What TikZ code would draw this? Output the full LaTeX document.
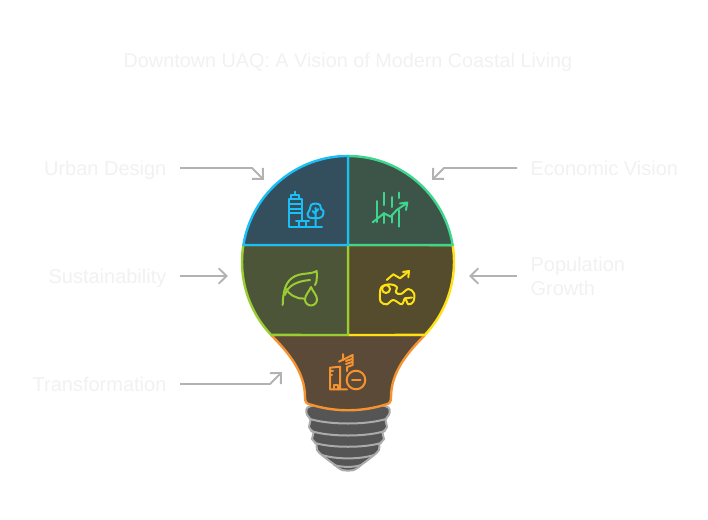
\documentclass[tikz,border=0pt]{standalone}
\usepackage{fontspec}
\setmainfont{Liberation Sans}
\usetikzlibrary{arrows.meta}

\definecolor{labelgray}{RGB}{241,241,241}
\definecolor{arrowgray}{RGB}{178,178,178}
\definecolor{threadgray}{RGB}{171,171,171}
\definecolor{screwdark}{RGB}{85,85,85}
\definecolor{urbanblue}{RGB}{27,190,245}
\definecolor{urbanfill}{RGB}{51,78,92}
\definecolor{econgreen}{RGB}{61,214,140}
\definecolor{econfill}{RGB}{61,85,73}
\definecolor{sustlime}{RGB}{154,205,50}
\definecolor{sustfill}{RGB}{77,85,57}
\definecolor{popyellow}{RGB}{255,224,20}
\definecolor{popfill}{RGB}{84,76,44}
\definecolor{transorange}{RGB}{245,147,49}
\definecolor{transfill}{RGB}{92,74,56}

\tikzset{
  labeltext/.style={text=labelgray,font=\fontsize{15}{18}\selectfont,inner sep=0pt,outer sep=10.2pt},
  labelsingle/.style={labeltext,text height=13.6pt,text depth=3pt},
  pointer/.style={draw=arrowgray,line width=1.4pt,-{Straight Barb[length=6pt,width=11.5pt,line width=1.4pt]}},
  cellline/.style={line width=1.8pt,line join=round},
  iconline/.style={line width=1.5pt,line cap=round,line join=round},
  threadline/.style={draw=threadgray,line width=1.5pt,line cap=round}
}

\begin{document}
\begin{tikzpicture}[x=0.75pt,y=0.75pt,yscale=-1]
\path [use as bounding box] (0,0) rectangle (708,519);

%Shape: Screw base
\draw [threadline,fill=screwdark] plot [smooth cycle,tension=0.55] coordinates {(348,402) (311,406) (306.5,413) (310.5,420) (309,427) (313.5,433) (312,439) (316.5,444) (317,450) (323,456) (335,465) (342,470) (354,470) (361,465) (373,456) (379,450) (379.5,444) (384,439) (382.5,433) (387,427) (385.5,420) (389.5,413) (385,406)};
%Curves: threads
\draw [threadline] (310,419) .. controls (330,425) and (366,425) .. (386,419) ;
\draw [threadline] (311,431) .. controls (330,437) and (366,437) .. (385,431) ;
\draw [threadline] (315,443) .. controls (332,448) and (364,448) .. (381,443) ;
\draw [threadline] (322,455) .. controls (336,459.5) and (360,459.5) .. (374,455) ;
\draw [threadline] (334,465) .. controls (342,467.5) and (354,467.5) .. (361,465) ;

%Shape: Neck
\draw [cellline,draw=transorange,fill=transfill] (271,335) .. controls (288,352) and (305,372) .. (305,397) .. controls (305,403) and (307,404) .. (312,405) .. controls (335,412) and (361,412) .. (384,405) .. controls (389,404) and (391,403) .. (391,397) .. controls (391,372) and (408,352) .. (425,335) -- cycle ;
%Shape: Lower right
\draw [cellline,draw=popyellow,fill=popfill] (348,245) -- (452.6,245) arc [start angle=-9.2,end angle=43.5,radius=106] -- (348,335) -- cycle ;
%Shape: Lower left
\draw [cellline,draw=sustlime,fill=sustfill] (348,245) -- (243.4,245) arc [start angle=189.2,end angle=136.5,radius=106] -- (348,335) -- cycle ;
%Shape: Upper right
\draw [cellline,draw=econgreen,fill=econfill] (348,245) -- (348,156) arc [start angle=270,end angle=350.8,radius=106] -- cycle ;
%Shape: Upper left
\draw [cellline,draw=urbanblue,fill=urbanfill] (348,245) -- (243.4,245) arc [start angle=189.2,end angle=270,radius=106] -- cycle ;

%Icon: building and tree
\draw [iconline,draw=urbanblue] (296,226.5) -- (288.5,226.5) -- (288.5,199) -- (301.5,199) -- (301.5,221) ;
\draw [iconline,draw=urbanblue] (291,199) -- (291,195) -- (299,195) -- (299,199) (295,195) -- (295,191.5) ;
\draw [iconline,draw=urbanblue] (290,204) -- (301.5,204) (290,208.5) -- (301.5,208.5) (290,213) -- (301.5,213) ;
\draw [iconline,draw=urbanblue] (296,226.5) -- (322,226.5) (296,221) -- (309,221) (298.5,221) -- (298.5,226.5) (306,221) -- (306,226.5) ;
\draw [iconline,draw=urbanblue] plot [smooth cycle,tension=0.6] coordinates {(307.5,214) (310,209) (311,205) (315.5,203.5) (320,205) (321,209) (323.5,211) (322.5,216) (319,218) (312,218) (308.5,217)};
\draw [iconline,draw=urbanblue] (315.7,208) -- (315.7,226.5) (315.7,214) -- (312.5,211) (315.7,212) -- (318.5,209) ;

%Icon: chart
\draw [iconline,draw=econgreen] (376.7,201) -- (376.7,222) (384,192.7) -- (384,205) (391.7,197) -- (391.7,207) (399.3,192.7) -- (399.3,198) (384,213) -- (384,223) (391.7,215) -- (391.7,222.5) (399.3,210) -- (399.3,226.7) ;
\draw [iconline,draw=econgreen] (372.7,222.3) -- (384,213.3) -- (390.7,216.7) -- (396.7,210) -- (406.7,203.3) ;
\draw [iconline,draw=econgreen] (400,203.5) -- (407.3,202.5) -- (406,210) ;

%Icon: leaf and drop
\draw [iconline,draw=sustlime] (282.7,305) .. controls (283,293) and (285,283) .. (292,278) .. controls (300,272) and (310,275) .. (316.7,271) .. controls (317,278) and (317,282) .. (315,285) ;
\draw [iconline,draw=sustlime] (285,295) .. controls (287,286) and (297,281) .. (310,280) ;
\draw [iconline,draw=sustlime] (285,288) .. controls (290,295) and (296,299) .. (304,298.5) ;
\draw [iconline,draw=sustlime] (311,287) .. controls (309,292) and (305,295) .. (305,299.5) .. controls (305,303) and (308,305.5) .. (311,305.5) .. controls (314,305.5) and (317,303) .. (317,299.5) .. controls (317,295) and (313,292) .. (311,287) -- cycle ;

%Icon: growth arrow and blob
\draw [iconline,draw=popyellow] (386.7,280) -- (393.3,274.3) -- (400,278.3) -- (408,272) ;
\draw [iconline,draw=popyellow] (403,272) -- (409,271) -- (408.3,277.3) ;
\draw [iconline,draw=popyellow] plot [smooth cycle,tension=0.6] coordinates {(380,293.3) (381.7,286.7) (390,284.3) (396.7,286.7) (396,292.5) (401,294) (408.3,289) (414,293.3) (413.3,301.7) (408.3,304.3) (405,298.3) (401.7,304.3) (393.3,300) (386.7,304.3) (380.7,301.7)};
\draw [iconline,draw=popyellow] (386,289) circle [radius=4] ;
\draw [iconline,draw=popyellow] (405,298.3) -- (412,297.5) ;

%Icon: buildings and minus
\draw [iconline,draw=transorange] (330,389.3) -- (330,367.7) -- (340,366.7) -- (340,389.3) (330,389.3) -- (347,389.3) ;
\draw [iconline,draw=transorange] (334,389.3) -- (334,385) -- (338,385) -- (338,389.3) ;
\draw [iconline,draw=transorange] (330,371) -- (333,371) (330,375) -- (332,375) ;
\draw [iconline,draw=transorange] (339,361.7) -- (352.7,355) -- (352.7,365) -- (347,367) -- (347,371) ;
\draw [iconline,draw=transorange] (343,354) -- (343,360) (346,364) -- (352,362) (346,361) -- (352,359) ;
\draw [iconline,draw=transorange] (356,380) circle [radius=9.3] ;
\draw [iconline,draw=transorange] (352,380) -- (360.5,380) ;

% Text Node
\node (lblTitle) [text=labelgray,font=\fontsize{14.85}{18}\selectfont,inner sep=0pt,text height=13.6pt,text depth=3pt] at (348,60) {Downtown UAQ: A Vision of Modern Coastal Living};
% Text Node
\node (lblUrban) [labelsingle,anchor=east] at (180,168) {Urban Design};
% Text Node
\node (lblSustain) [labelsingle,anchor=east] at (180,276) {Sustainability};
% Text Node
\node (lblTrans) [labelsingle,anchor=east] at (180,384) {Transformation};
% Text Node
\node (lblEcon) [labelsingle,anchor=west] at (517,168) {Economic Vision};
% Text Node
\node (lblPop) [labeltext,anchor=west,align=left] at (517,276) {Population\\Growth};

%Straight Lines
\coordinate (urbanBend) at (252,168);
\coordinate (urbanTip) at (264,180);
\coordinate (sustainTip) at (228,276);
\coordinate (transBend) at (270,384);
\coordinate (transTip) at (282,372);
\coordinate (econBend) at (444,168);
\coordinate (econTip) at (432,180);
\coordinate (popTip) at (469,276);
\draw [pointer] (lblUrban.east) -- (urbanBend) -- (urbanTip) ;
\draw [pointer] (lblSustain.east) -- (sustainTip) ;
\draw [pointer] (lblTrans.east) -- (transBend) -- (transTip) ;
\draw [pointer] (lblEcon.west) -- (econBend) -- (econTip) ;
\draw [pointer] (lblPop.west) -- (popTip) ;
\end{tikzpicture}
\end{document}
